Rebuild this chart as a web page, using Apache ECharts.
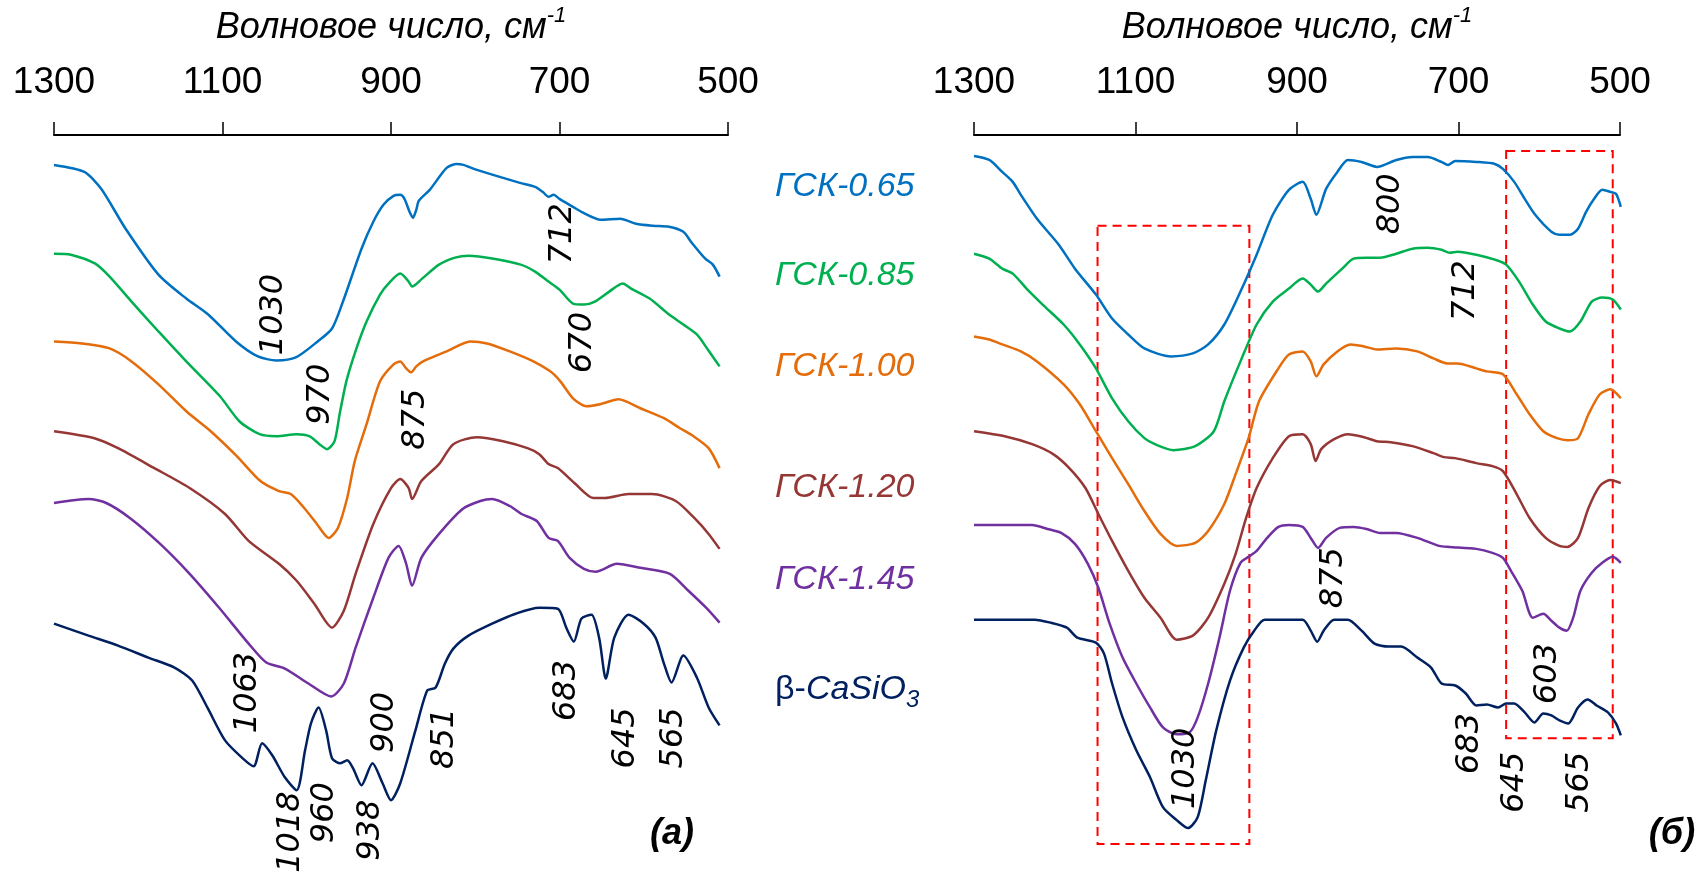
<!DOCTYPE html>
<html>
<head>
<meta charset="utf-8">
<script src="https://cdn.jsdelivr.net/npm/echarts@6/dist/echarts.min.js"></script>
<style>html,body{margin:0;padding:0;background:#fff}#c{width:1700px;height:872px}</style>
</head>
<body>
<div id="c"></div>
<script>
// ---- categories / names ----
const sampleNames = ['ГСК-0.65', 'ГСК-0.85', 'ГСК-1.00', 'ГСК-1.20', 'ГСК-1.45', 'β-CaSiO3'];
const axisTitle = 'Волновое число, см';
const tickValues = [1300, 1100, 900, 700, 500];

// ---- panel (a): [wavenumber, offset transmittance a.u.] ----
const panelA_065 = [[1300,70.9],[1264,70.2],[1244,68.5],[1215,64.5],[1176,59.9],[1143,57.5],[1117,55.9],[1084,53.2],[1058,51.7],[1036,51.3],[1013,51.6],[987,53.2],[970,54.5],[957,57.2],[935,62.5],[921,65.2],[909,66.9],[897,67.8],[889,67.9],[884,67.5],[878,66.2],[874,65.6],[870,66.4],[867,67.3],[854,68.4],[834,70.6],[822,71.0],[814,70.9],[798,70.4],[747,69.1],[729,68.7],[720,68.2],[713,67.7],[707,67.9],[700,67.5],[684,66.7],[674,66.2],[651,65.4],[628,65.5],[609,65.0],[589,64.8],[570,64.7],[553,64.2],[544,63.2],[527,61.5],[518,60.9],[510,59.7]];
const panelA_085 = [[1300,62.0],[1280,61.9],[1251,61.0],[1234,59.7],[1208,57.2],[1176,54.2],[1143,51.2],[1103,47.7],[1080,45.2],[1056,43.9],[1036,43.7],[1012,43.9],[997,43.7],[985,42.9],[976,42.4],[967,43.2],[961,45.9],[953,49.2],[941,52.5],[929,55.2],[913,57.9],[903,59.0],[889,60.0],[879,59.2],[875,58.7],[863,59.5],[843,60.9],[824,61.6],[808,61.8],[778,61.5],[746,60.9],[729,60.2],[713,59.2],[700,58.4],[684,57.0],[671,56.9],[658,57.2],[641,58.2],[625,59.0],[615,58.5],[593,57.5],[570,55.9],[553,54.9],[537,53.9],[524,52.4],[510,50.7]];
const panelA_100 = [[1300,53.2],[1267,53.0],[1234,52.5],[1208,51.2],[1176,48.9],[1143,46.2],[1114,44.2],[1083,41.7],[1055,39.2],[1033,38.2],[1019,37.9],[1005,36.7],[988,34.9],[974,33.5],[963,34.5],[952,37.5],[943,41.2],[929,44.9],[913,49.2],[897,50.9],[889,51.2],[882,50.5],[876,50.1],[870,50.7],[862,51.2],[834,52.2],[806,53.2],[786,53.0],[759,52.2],[731,51.2],[711,50.2],[699,49.2],[684,47.5],[668,46.7],[652,46.9],[630,47.4],[604,46.5],[576,45.5],[557,44.5],[541,43.7],[523,42.5],[510,40.5]];
const panelA_120 = [[1300,44.2],[1252,43.5],[1224,42.5],[1181,40.5],[1139,38.5],[1097,35.9],[1069,33.2],[1033,30.9],[1012,29.2],[991,26.9],[970,24.5],[956,26.2],[942,29.9],[921,34.9],[900,38.5],[889,39.4],[879,38.5],[875,37.4],[864,39.2],[843,40.9],[826,42.9],[798,43.6],[767,43.2],[738,42.5],[724,41.9],[713,40.9],[702,40.5],[681,38.9],[660,37.5],[646,37.5],[618,37.9],[590,37.9],[562,37.2],[540,35.5],[523,33.9],[510,32.4]];
const panelA_145 = [[1300,37.0],[1259,37.4],[1238,37.0],[1210,35.5],[1174,32.9],[1139,29.9],[1104,26.5],[1069,22.9],[1048,21.0],[1026,20.4],[998,18.9],[971,17.6],[956,18.9],[942,22.5],[921,27.5],[903,31.5],[891,32.7],[882,30.9],[875,28.7],[864,31.5],[843,33.9],[815,36.4],[794,37.2],[780,37.4],[759,36.7],[745,35.9],[727,35.2],[713,33.5],[702,33.2],[688,31.5],[671,30.4],[657,30.1],[632,30.9],[604,30.5],[569,29.9],[547,28.2],[526,26.5],[510,25.0]];
const panelA_beta = [[1300,24.9],[1259,23.7],[1224,22.7],[1188,21.5],[1157,20.5],[1136,19.2],[1118,16.5],[1097,13.2],[1076,11.4],[1063,10.6],[1053,12.9],[1041,11.7],[1026,9.5],[1012,8.2],[1002,12.2],[995,14.9],[986,16.5],[977,14.2],[970,11.4],[960,10.9],[952,11.2],[945,10.4],[935,8.7],[922,10.9],[910,8.9],[900,7.2],[889,8.9],[871,14.2],[857,18.2],[847,18.5],[836,20.9],[826,22.4],[808,23.7],[780,24.9],[752,25.9],[724,26.5],[702,26.4],[692,24.5],[683,23.1],[674,25.4],[662,25.8],[653,23.5],[645,19.4],[635,23.5],[618,25.8],[600,24.9],[586,23.5],[576,20.9],[567,19.0],[553,21.7],[537,19.5],[523,16.5],[510,14.7]];

// ---- panel (б) ----
const panelB_065 = [[1300,71.8],[1281,71.4],[1265,70.2],[1252,69.2],[1242,67.9],[1222,65.5],[1195,62.9],[1175,60.5],[1149,57.9],[1129,55.5],[1109,53.9],[1089,52.5],[1056,51.7],[1029,52.0],[1010,52.9],[990,54.9],[970,58.2],[950,61.9],[930,65.9],[910,68.4],[893,69.2],[883,67.5],[876,65.9],[864,68.5],[850,70.2],[837,71.4],[820,71.2],[801,70.7],[777,71.4],[757,71.7],[738,71.7],[721,71.2],[713,70.9],[704,71.3],[678,71.2],[655,71.0],[645,70.5],[631,69.2],[618,67.5],[605,65.9],[585,64.2],[575,63.9],[562,63.9],[552,64.5],[542,66.2],[532,67.5],[522,68.4],[512,68.2],[505,68.0],[499,66.7]];
const panelB_085 = [[1300,62.0],[1281,61.5],[1265,60.5],[1252,60.0],[1235,58.5],[1215,56.9],[1189,54.9],[1169,52.9],[1149,50.5],[1129,47.5],[1109,45.2],[1089,43.5],[1076,42.9],[1053,42.3],[1026,42.7],[1003,44.2],[990,47.2],[970,51.2],[950,54.9],[930,57.2],[910,58.5],[893,59.5],[883,58.9],[874,58.2],[864,59.0],[844,60.5],[830,61.5],[814,61.6],[797,61.6],[777,62.0],[757,62.5],[738,62.6],[721,62.4],[711,62.1],[701,62.2],[678,61.9],[655,61.4],[641,60.9],[625,59.2],[608,56.9],[592,55.2],[575,54.5],[562,54.2],[549,55.2],[535,57.2],[522,57.6],[509,57.4],[499,56.4]];
const panelB_100 = [[1300,53.7],[1281,53.4],[1265,52.9],[1242,52.2],[1222,51.2],[1189,48.9],[1169,46.9],[1149,44.2],[1129,41.5],[1109,38.9],[1089,36.2],[1069,33.9],[1049,32.7],[1026,33.0],[1010,34.2],[990,36.9],[976,39.9],[960,43.5],[947,47.2],[923,50.5],[910,51.9],[893,52.2],[883,51.2],[876,49.7],[867,50.9],[850,52.2],[834,52.9],[817,52.7],[801,52.4],[777,52.5],[751,52.2],[731,51.5],[714,51.0],[701,51.0],[678,50.5],[665,50.2],[645,49.9],[628,47.9],[612,45.9],[595,44.2],[578,43.5],[565,43.3],[552,43.5],[539,45.9],[525,47.9],[512,48.4],[499,47.5]];
const panelB_120 = [[1300,44.2],[1262,43.7],[1228,42.9],[1202,41.9],[1182,40.5],[1162,38.5],[1146,35.9],[1129,33.2],[1109,30.2],[1089,27.5],[1069,25.5],[1049,23.3],[1029,23.7],[1010,25.5],[990,28.9],[976,31.9],[963,35.5],[950,38.5],[930,41.5],[910,43.7],[893,43.9],[883,42.9],[877,41.2],[870,42.4],[854,43.4],[837,43.9],[817,43.6],[801,43.2],[784,43.1],[757,42.7],[731,42.0],[718,41.6],[704,41.5],[678,41.0],[658,40.7],[645,40.2],[628,37.9],[612,35.5],[592,33.5],[575,32.7],[565,32.6],[552,33.5],[539,36.5],[525,38.7],[512,39.3],[499,39.0]];
const panelB_145 = [[1300,34.8],[1228,34.8],[1209,34.4],[1192,34.0],[1175,32.9],[1159,30.9],[1146,28.5],[1132,24.9],[1116,21.5],[1099,18.9],[1082,16.5],[1066,14.5],[1049,13.8],[1033,14.0],[1023,15.5],[1010,18.9],[996,23.5],[983,28.2],[970,31.0],[960,31.6],[950,32.2],[937,33.5],[923,34.6],[910,34.8],[893,34.6],[883,33.5],[874,32.5],[864,33.5],[847,34.5],[830,34.6],[814,34.4],[797,34.0],[777,34.0],[751,33.5],[724,32.7],[711,32.6],[678,32.4],[658,32.0],[645,31.5],[635,30.2],[621,28.2],[608,25.5],[595,25.9],[585,25.2],[575,24.5],[566,24.2],[558,25.5],[549,28.2],[535,30.0],[522,31.0],[509,31.6],[499,31.0]];
const panelB_beta = [[1300,25.3],[1225,25.3],[1205,25.0],[1185,24.5],[1172,23.5],[1149,23.0],[1139,21.9],[1129,18.9],[1116,15.5],[1099,12.2],[1082,9.5],[1066,6.5],[1049,5.2],[1035,4.4],[1023,5.5],[1013,9.2],[1000,14.2],[983,19.2],[966,22.5],[953,24.2],[940,25.3],[893,25.3],[883,24.2],[875,23.1],[867,24.2],[854,25.3],[837,25.3],[820,24.2],[804,22.9],[787,22.6],[771,22.6],[751,21.5],[734,20.5],[721,18.9],[704,18.7],[691,17.9],[678,16.7],[665,16.8],[651,16.5],[641,16.9],[631,16.9],[618,16.0],[606,15.0],[595,15.9],[585,15.7],[575,15.2],[564,14.9],[552,16.5],[540,17.3],[529,16.7],[515,16.0],[505,14.9],[499,13.7]];

// ---- peak annotations: [label, wavenumber, level] ----
const peaksA = [['1030',1039,55.9],['712',696,64.0],['970',983,47.9],['670',672,53.1],['875',871,45.4],['1063',1070,18.0],['1018',1019,4.0],['960',979,5.95],['938',924,4.2],['900',907,15.0],['851',836,13.4],['683',692,18.2],['645',621,13.45],['565',565,13.45]];
const peaksB = [['800',784,67.0],['712',691,58.3],['875',855,29.5],['1030',1038,10.4],['683',686,12.9],['645',630,9.0],['603',590,19.9],['565',550,9.0]];
// highlighted ranges on panel (б): [wnFrom, levelTop, wnTo, levelBottom]
const highlightRanges = [[1147,64.8,959,2.8],[641,72.3,509,13.4]];

const colors = ['#0070C0', '#00B050', '#E46C0A', '#953735', '#7030A0', '#002060'];
const seriesA = [panelA_065, panelA_085, panelA_100, panelA_120, panelA_145, panelA_beta];
const seriesB = [panelB_065, panelB_085, panelB_100, panelB_120, panelB_145, panelB_beta];

const chart = echarts.init(document.getElementById('c'), null, {renderer: 'canvas'});

function xAxisDef(idx) {
  return {
    gridIndex: idx, type: 'value', position: 'top', inverse: true,
    min: 500, max: 1300, interval: 200,
    axisLine: {show: true, onZero: false, lineStyle: {color: '#000', width: 2}},
    axisTick: {show: true, length: 13, lineStyle: {color: '#000', width: 1.5}},
    axisLabel: {fontSize: 37, color: '#000', fontFamily: 'Liberation Sans, Arial, sans-serif', margin: 34,
      formatter: v => String(v)},
    splitLine: {show: false},
    name: '{t|' + axisTitle + '}{s|-1}',
    nameLocation: 'middle', nameGap: 84,
    nameTextStyle: {
      rich: {
        t: {fontSize: 36, fontStyle: 'italic', color: '#000', fontFamily: 'Liberation Sans, Arial, sans-serif'},
        s: {fontSize: 22, fontStyle: 'italic', color: '#000', fontFamily: 'Liberation Sans, Arial, sans-serif', padding: [0, 0, 24, 0]}
      }
    }
  };
}
function yAxisDef(idx) {
  return {gridIndex: idx, type: 'value', min: 0, max: 73.9, show: false};
}

const series = [];
seriesA.forEach((d, i) => series.push({
  name: sampleNames[i], type: 'line', xAxisIndex: 0, yAxisIndex: 0, data: d,
  showSymbol: false, smooth: 0.25, lineStyle: {color: colors[i], width: 2.5}, silent: true
}));
seriesB.forEach((d, i) => {
  const s = {
    name: sampleNames[i], type: 'line', xAxisIndex: 1, yAxisIndex: 1, data: d,
    showSymbol: false, smooth: 0.25, lineStyle: {color: colors[i], width: 2.5}, silent: true
  };
  if (i === 0) {
    s.markArea = {
      silent: true,
      itemStyle: {color: 'rgba(0,0,0,0)', borderColor: '#FF0000', borderWidth: 2, borderType: [9, 6]},
      data: highlightRanges.map(r => [{coord: [r[0], r[1]]}, {coord: [r[2], r[3]]}])
    };
  }
  series.push(s);
});
const peakLabel = {
  show: true, position: 'inside', formatter: '{b}', rotate: 90,
  color: '#000', opacity: 1, textBorderWidth: 0, textShadowBlur: 0,
  fontSize: 32, fontStyle: 'italic', fontFamily: 'DejaVu Sans, sans-serif'
};
series.push({
  type: 'scatter', xAxisIndex: 0, yAxisIndex: 0, symbolSize: 1, silent: true, z: 5,
  itemStyle: {color: 'rgba(0,0,0,0)'}, label: peakLabel,
  data: peaksA.map(p => ({name: p[0], value: [p[1], p[2]]}))
});
series.push({
  type: 'scatter', xAxisIndex: 1, yAxisIndex: 1, symbolSize: 1, silent: true, z: 5,
  itemStyle: {color: 'rgba(0,0,0,0)'}, label: peakLabel,
  data: peaksB.map(p => ({name: p[0], value: [p[1], p[2]]}))
});

const legendY = [187, 276, 367, 488, 580, 690];
const legendFont = 'Liberation Sans, Arial, sans-serif';
const graphics = sampleNames.map((n, i) => {
  if (i === 5) {
    return {
      type: 'text', x: 775, y: legendY[i],
      style: {
        text: '{n|β-}{i|CaSiO}{s|3}', verticalAlign: 'middle', align: 'left',
        rich: {
          n: {fontSize: 34, fill: colors[i], fontFamily: legendFont},
          i: {fontSize: 34, fontStyle: 'italic', fill: colors[i], fontFamily: legendFont},
          s: {fontSize: 24, fontStyle: 'italic', fill: colors[i], fontFamily: legendFont, padding: [20, 0, 0, 0]}
        }
      }
    };
  }
  return {
    type: 'text', x: 775, y: legendY[i],
    style: {text: n, fill: colors[i], font: 'italic 34px ' + legendFont, verticalAlign: 'middle', align: 'left'}
  };
});
graphics.push({type: 'text', x: 672, y: 834, style: {text: '(а)', fill: '#000', font: 'italic bold 36px ' + legendFont, align: 'center', verticalAlign: 'middle'}});
graphics.push({type: 'text', x: 1672, y: 834, style: {text: '(б)', fill: '#000', font: 'italic bold 36px ' + legendFont, align: 'center', verticalAlign: 'middle'}});

chart.setOption({
  animation: false,
  backgroundColor: '#fff',
  grid: [
    {left: 54, top: 133, width: 674, bottom: 0, containLabel: false},
    {left: 974, top: 133, width: 646, bottom: 0, containLabel: false}
  ],
  xAxis: [xAxisDef(0), xAxisDef(1)],
  yAxis: [yAxisDef(0), yAxisDef(1)],
  series: series,
  graphic: graphics
});
</script>
</body>
</html>
